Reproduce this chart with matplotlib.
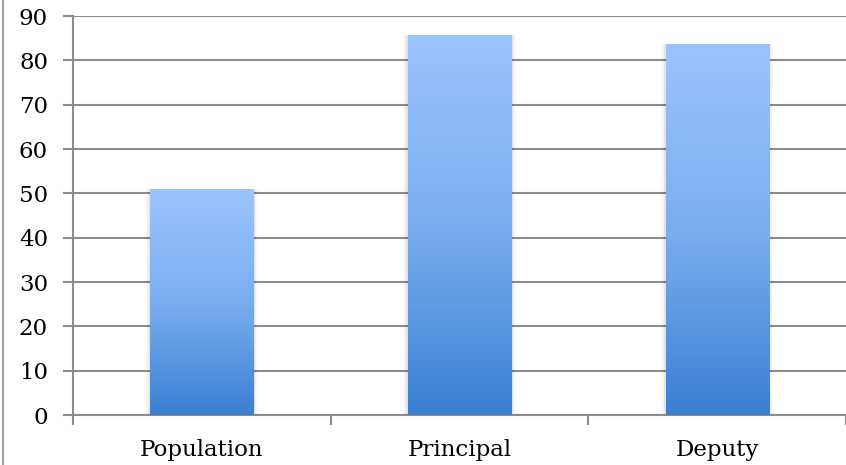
import numpy as np
import matplotlib.pyplot as plt
from matplotlib.colors import LinearSegmentedColormap

categories = ['Population', 'Principal', 'Deputy']
values = [50.8, 85.5, 83.5]
yticks = [0, 10, 20, 30, 40, 50, 60, 70, 80, 90]

plt.rcParams['font.family'] = ['DejaVu Serif']

fig = plt.figure(figsize=(8.46, 4.65), dpi=100)
ax = fig.add_axes([0.0863, 0.1075, 0.9137, 0.858])

# gray border line at far left of the picture
fig.add_artist(plt.Line2D([0.004, 0.004], [0, 1], color='#a0a0a0', lw=1.5,
                          transform=fig.transFigure))

grid_col = '#8c8c8c'
ax.set_ylim(0, 90)
ax.set_xlim(-0.5, len(categories) - 0.5)
ax.set_yticks(yticks)
ax.yaxis.grid(True, color=grid_col, lw=1.5, zorder=0)
ax.set_axisbelow(True)

cmap = LinearSegmentedColormap.from_list('bar', ['#3a80d2', '#7aaeef', '#9cc4ff'])
grad = np.linspace(0, 1, 256).reshape(-1, 1)

x = np.arange(len(categories))
bars = ax.bar(x, values, width=0.4, color='none', edgecolor='none', zorder=3)
for b in bars:
    x0, w, h = b.get_x(), b.get_width(), b.get_height()
    # faint shadow
    for k, a in zip([0.018, 0.012, 0.006], [0.025, 0.035, 0.05]):
        ax.fill_between([x0 - k, x0 + w + k], 0, h + k * 12, color='k', alpha=a,
                        lw=0, zorder=2)
    ax.imshow(grad, cmap=cmap, origin='lower', aspect='auto',
              extent=(x0, x0 + w, 0, h), zorder=3, interpolation='bicubic')
ax.set_xlim(-0.5, len(categories) - 0.5)
ax.set_ylim(0, 90)

ax.set_xticks(x)
ax.set_xticklabels(categories, fontsize=16.5)
ax.set_xticks(np.arange(len(categories) + 1) - 0.5, minor=True)
ax.tick_params(axis='x', which='major', length=0, pad=17)
ax.tick_params(axis='x', which='minor', length=7, width=1.5, color=grid_col)
ax.tick_params(axis='y', length=7, width=1.5, color=grid_col, pad=11,
               labelsize=16.5)

for s in ['top', 'right']:
    ax.spines[s].set_visible(False)
for s in ['left', 'bottom']:
    ax.spines[s].set_color(grid_col)
    ax.spines[s].set_linewidth(1.5)

fig.savefig('out.png', dpi=100)
